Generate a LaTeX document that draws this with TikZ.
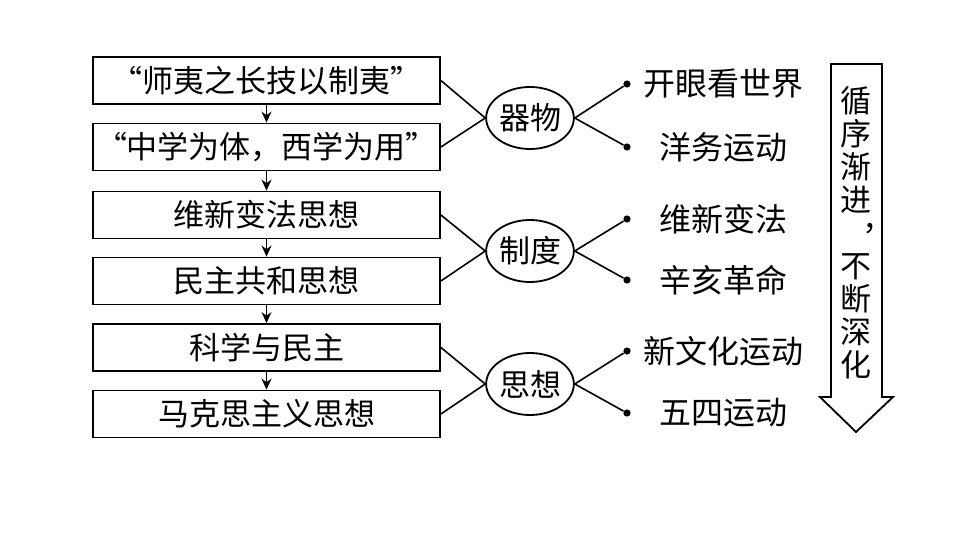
\documentclass[tikz,border=0pt]{standalone}
\usepackage{fontspec}
\usepackage{tikz}
\usetikzlibrary{arrows.meta,shapes.geometric}
\newfontfamily\cjk{Noto Sans CJK SC}

\begin{document}
\begin{tikzpicture}[x=0.5pt, y=-0.5pt, >={Stealth[length=5.5pt,width=5pt]},
    box/.style={draw, line width=0.9pt, minimum width=173.5pt, minimum height=23.5pt, inner sep=0pt, font=\cjk\fontsize{15.5}{18}\selectfont},
    oval/.style={draw, ellipse, line width=0.9pt, minimum width=43pt, minimum height=31pt, inner sep=0pt, font=\cjk\fontsize{15.5}{18}\selectfont},
    item/.style={inner sep=0pt, font=\cjk\fontsize{16}{18}\selectfont},
    dot/.style={circle, fill, inner sep=0pt, minimum size=3.6pt}]
    \useasboundingbox (0,0) rectangle (960,540);
    % left column
    \node[box] (b1) at (266.5,80.5) {“师夷之长技以制夷”};
    \node[box] (b2) at (266.5,147) {“中学为体，西学为用”};
    \node[box] (b3) at (266.5,215) {维新变法思想};
    \node[box] (b4) at (266.5,281) {民主共和思想};
    \node[box] (b5) at (266.5,347.5) {科学与民主};
    \node[box] (b6) at (266.5,414) {马克思主义思想};
    \draw[->, line width=0.7pt] (b1) -- (b2);
    \draw[->, line width=0.7pt] (b2) -- (b3);
    \draw[->, line width=0.7pt] (b3) -- (b4);
    \draw[->, line width=0.7pt] (b4) -- (b5);
    \draw[->, line width=0.7pt] (b5) -- (b6);
    % ellipses
    \node[oval] (e1) at (530,118) {器物};
    \node[oval] (e2) at (530,251) {制度};
    \node[oval] (e3) at (530,384) {思想};
    \draw[line width=0.8pt] (b1.east) -- (e1.west) -- (b2.east);
    \draw[line width=0.8pt] (b3.east) -- (e2.west) -- (b4.east);
    \draw[line width=0.8pt] (b5.east) -- (e3.west) -- (b6.east);
    % right column
    \node[dot] (d1) at (627,84) {};
    \node[dot] (d2) at (627,147) {};
    \node[dot] (d3) at (627,219) {};
    \node[dot] (d4) at (627,280) {};
    \node[dot] (d5) at (627,351) {};
    \node[dot] (d6) at (627,413) {};
    \node[item] (t1) at (723,84) {开眼看世界};
    \node[item] (t2) at (723,147) {洋务运动};
    \node[item] (t3) at (723,219) {维新变法};
    \node[item] (t4) at (723,280) {辛亥革命};
    \node[item] (t5) at (723,351) {新文化运动};
    \node[item] (t6) at (723,413) {五四运动};
    \draw[line width=0.8pt] (d1) -- (e1.east) -- (d2);
    \draw[line width=0.8pt] (d3) -- (e2.east) -- (d4);
    \draw[line width=0.8pt] (d5) -- (e3.east) -- (d6);
    % big arrow
    \draw[line width=0.9pt] (831,64) -- (882,64) -- (882,397) -- (893,397) -- (856,432) -- (820,397) -- (831,397) -- cycle;
    \node[align=center, inner sep=0pt, font=\cjk\fontsize{15.5}{16.5}\selectfont] (v) at (856,233) {循\\序\\渐\\进\\\hspace{6pt}\raisebox{-3pt}[0pt][0pt]{︐}\\不\\断\\深\\化};
\end{tikzpicture}
\end{document}
